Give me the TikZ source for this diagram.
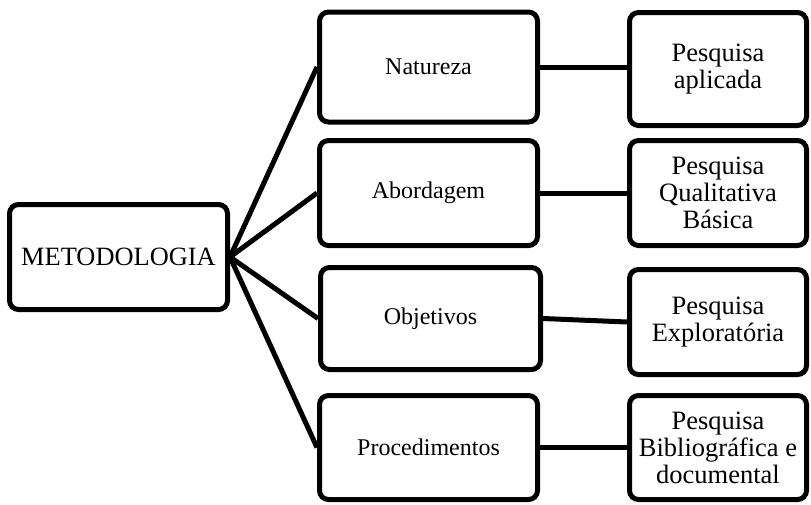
\documentclass[tikz,border=0pt]{standalone}
\usepackage{fontspec}
\setmainfont{Liberation Serif}
\begin{document}
\begin{tikzpicture}[x=1pt,y=-1pt,
  box/.style={draw, line width=5pt, rounded corners=9pt, align=center,
    inner sep=0pt, fill=white},
  midbox/.style={box, minimum width=218pt, font=\fontsize{24}{27}\selectfont},
  resbox/.style={box, minimum width=177pt, font=\fontsize{26.5}{27}\selectfont},
  link/.style={line width=5pt}]
\useasboundingbox (0,0) rectangle (811,504);

% root
\node[box, minimum width=218pt, minimum height=105pt,
  font=\fontsize{26.4}{28}\selectfont] (met) at (118.5,257) {METODOLOGIA};

% categories
\node[midbox, minimum height=110pt] (nat) at (428.5,67) {Natureza};
\node[midbox, minimum height=105pt] (abo) at (428.5,193) {Abordagem};
\node[midbox, minimum width=220pt, minimum height=102pt] (obj) at (430.5,318.5) {Objetivos};
\node[midbox, minimum height=104pt] (pro) at (428.5,447.5) {Procedimentos};

% choices
\node[resbox, minimum height=113pt] (r1) at (718,69) {Pesquisa\\aplicada};
\node[resbox, minimum height=105pt] (r2) at (718,193) {Pesquisa\\Qualitativa\\Básica};
\node[resbox, minimum height=105pt] (r3) at (718,322) {Pesquisa\\Exploratória};
\node[resbox, minimum height=104pt] (r4) at (718,447.5) {Pesquisa\\Bibliográfica e\\documental};

% fan from the root
\foreach \n in {nat,abo,obj,pro}
  \draw[link] (met.east) -- (\n.west);

% category to choice
\draw[link] (nat.east) -- (nat.east -| r1.west);
\draw[link] (abo.east) -- (abo.east -| r2.west);
\draw[link] (obj.east) -- (r3.west);
\draw[link] (pro.east) -- (pro.east -| r4.west);
\end{tikzpicture}
\end{document}
